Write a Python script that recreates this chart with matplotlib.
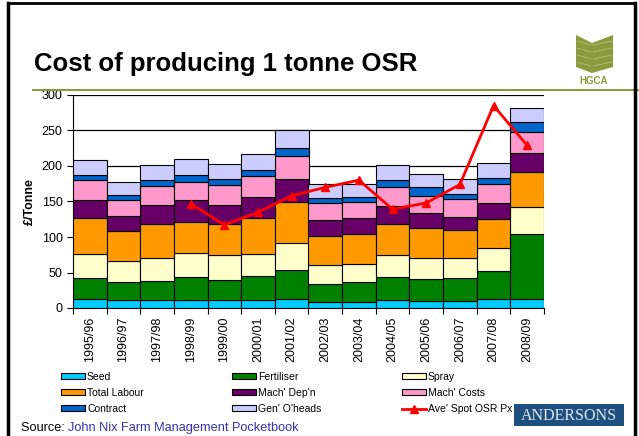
import matplotlib
matplotlib.use("Agg")
import numpy as np
import matplotlib.pyplot as plt
from matplotlib.patches import Polygon, Rectangle

plt.rcParams['font.family'] = ['Liberation Sans', 'DejaVu Sans']

# Chart data (£/tonne)
years = ['1995/96', '1996/97', '1997/98', '1998/99', '1999/00', '2000/01', '2001/02',
         '2002/03', '2003/04', '2004/05', '2005/06', '2006/07', '2007/08', '2008/09']
seed = [13, 11, 11, 11, 11, 11, 13, 8, 9, 11, 10, 10, 13, 13]
fertiliser = [29, 26, 27, 32, 28, 34, 40, 26, 27, 33, 31, 32, 39, 91]
spray = [34, 29, 32, 34, 35, 31, 38, 26, 26, 31, 30, 28, 32, 38]
total_labour = [51, 42, 48, 44, 44, 51, 58, 42, 42, 43, 41, 40, 42, 49]
mach_depn = [25, 22, 27, 31, 27, 29, 32, 22, 23, 25, 22, 18, 22, 27]
mach_costs = [28, 22, 27, 26, 28, 30, 33, 24, 22, 27, 24, 25, 27, 30]
contract = [7, 7, 8, 10, 9, 8, 11, 7, 7, 10, 12, 7, 8, 14]
gen_overheads = [21, 18, 21, 22, 21, 23, 26, 19, 18, 21, 19, 21, 21, 19]
spot_osr_price = [np.nan, np.nan, np.nan, 147, 117, 135, 158, 170, 180, 139, 148, 174, 285, 229]

series = [
    ('Seed', seed, '#00ccff'),
    ('Fertiliser', fertiliser, '#008000'),
    ('Spray', spray, '#ffffcc'),
    ('Total Labour', total_labour, '#ff9900'),
    ("Mach' Dep'n", mach_depn, '#660066'),
    ("Mach' Costs", mach_costs, '#ff99cc'),
    ('Contract', contract, '#0066cc'),
    ("Gen' O'heads", gen_overheads, '#ccccff'),
]

W, H = 639, 436
fig = plt.figure(figsize=(W / 100, H / 100), dpi=100)


def fx(px):
    return px / W


def fy(py):
    return 1 - py / H


# main chart
ax = fig.add_axes([fx(73), fy(308), fx(544) - fx(73), fy(95) - fy(308)])
x = np.arange(len(years))
bottom = np.zeros(len(years))
handles = {}
for name, vals, col in series:
    b = ax.bar(x, vals, bottom=bottom, width=1.0, color=col, edgecolor='black',
               linewidth=0.8, zorder=3, label=name)
    handles[name] = b
    bottom += np.array(vals)

line, = ax.plot(x, spot_osr_price, color='red', lw=2, marker='^', markersize=6,
                zorder=4, label="Ave' Spot OSR Px")
handles["Ave' Spot OSR Px"] = line

ax.set_xlim(-0.5, len(years) - 0.5)
ax.set_ylim(0, 300)
ax.set_yticks(range(0, 301, 50))
ax.tick_params(axis='y', labelsize=9, length=4, direction='out', width=0.8)
ax.set_xticks(x)
ax.set_xticklabels(years, rotation=90, fontsize=9)
ax.set_xticks(np.arange(-0.5, len(years), 1.0), minor=True)
ax.tick_params(axis='x', which='major', length=0, pad=6)
ax.tick_params(axis='x', which='minor', length=4, width=0.8, direction='out')
ax.grid(axis='y', color='black', linewidth=0.9, zorder=0)
ax.set_axisbelow(True)
for s in ['top', 'right']:
    ax.spines[s].set_visible(False)
ax.spines['left'].set_linewidth(0.8)
ax.spines['bottom'].set_linewidth(0.8)
ax.set_ylabel('£/Tonne', fontsize=9, fontweight='bold', labelpad=4)

# legend in three columns
columns = [
    (61, ['Seed', 'Total Labour', 'Contract']),
    (232, ['Fertiliser', "Mach' Dep'n", "Gen' O'heads"]),
    (402, ['Spray', "Mach' Costs", "Ave' Spot OSR Px"]),
]
for xpos, names in columns:
    fig.legend([handles[n] for n in names], names, loc='upper left',
               bbox_to_anchor=(fx(xpos), fy(371.5)), frameon=False, fontsize=7.5,
               handlelength=2.3, handleheight=0.5, handletextpad=0.2,
               labelspacing=0.6, borderpad=0, borderaxespad=0)

# title, source
fig.text(fx(34), fy(64), 'Cost of producing 1 tonne OSR', fontsize=18.5,
         fontweight='bold', va='center', ha='left')
t = fig.text(fx(21), fy(428), 'Source: ', fontsize=9.2, va='center', ha='left')
fig.canvas.draw()
bb = t.get_window_extent()
fig.text(bb.x1 / W, fy(428), 'John Nix Farm Management Pocketbook', fontsize=9.2,
         va='center', ha='left', color='#3333aa')

# slide decorations (overlay above legends)
ov = fig.add_axes([0, 0, 1, 1], zorder=10)
ov.set_xlim(0, W)
ov.set_ylim(H, 0)
ov.axis('off')
ov.patch.set_alpha(0)
olive = '#8a9a3c'
ov.plot([33, W], [90.5, 90.5], color=olive, lw=1.5)
ov.plot([8, 8], [3, H], color='black', lw=2.5)
ov.plot([8, 635], [3, 3], color='black', lw=2)
ov.plot([635, 635], [3, H], color='black', lw=2.5)

# HGCA logo
ov.add_patch(Polygon([(576, 35), (592, 43), (613, 35), (613, 67), (592, 73), (576, 67)],
                     closed=True, facecolor=olive, edgecolor='none'))
for yy in [44, 51, 58, 65]:
    ov.plot([577, 591], [yy - 3, yy + 1], color='#c8cf9a', lw=0.4)
    ov.plot([593, 612], [yy + 1, yy - 3], color='#c8cf9a', lw=0.4)
ov.text(594, 81, 'HGCA', fontsize=7, fontweight='bold', color=olive, ha='center', va='center')

# ANDERSONS logo
ov.add_patch(Rectangle((514, 404), 110, 22, facecolor='#1d4f7f', edgecolor='none'))
ov.text(569, 415.5, 'ANDERSONS', family='Liberation Serif', fontsize=11.5,
        color='#dfe6ee', ha='center', va='center')

fig.savefig('out.png', dpi=100)
